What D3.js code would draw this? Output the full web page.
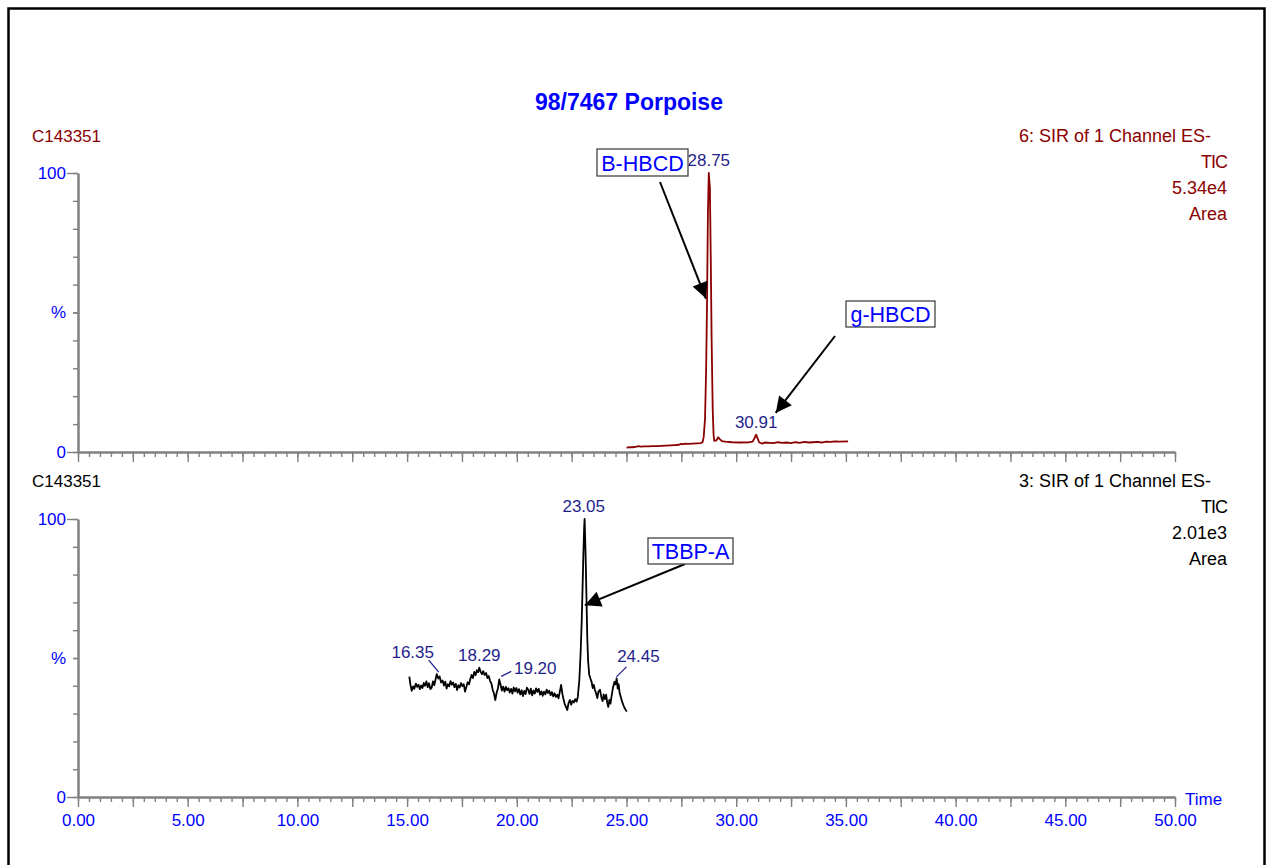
<!DOCTYPE html>
<html>
<head>
<meta charset="utf-8">
<script src="https://cdn.jsdelivr.net/npm/d3@7"></script>
<style>
  html, body { margin: 0; padding: 0; background: #fff; }
  svg { display: block; font-family: "Liberation Sans", Arial, sans-serif; }
  .axis path, .axis line { stroke: #808080; }
  .axis path { stroke-width: 2.5; }
  .axis line { stroke-width: 1.4; }
  .axis text { fill: #0000ff; font-size: 17px; }
</style>
</head>
<body>
<svg id="chart" width="1266" height="865"></svg>
<script>
// ============ Data ============
const TITLE = "98/7467 Porpoise";
const SAMPLE_ID = "C143351";
const topInfo = ["6: SIR of 1 Channel ES-", "TIC", "5.34e4", "Area"];
const bottomInfo = ["3: SIR of 1 Channel ES-", "TIC", "2.01e3", "Area"];
const xLabelTicks = [0, 5, 10, 15, 20, 25, 30, 35, 40, 45, 50];
const yLabelTicks = [0, 50, 100];
const yLabelText = ["0", "%", "100"];

// HBCD channel (time min, % of max)
const hbcdTrace = [
  [25.00,1.6],[25.15,1.7],[25.30,1.7],[25.45,1.9],[25.55,2.1],[25.65,1.9],[25.80,2.0],
  [26.00,2.0],[26.20,2.1],[26.40,2.1],[26.60,2.2],[26.80,2.3],[27.00,2.4],[27.20,2.5],
  [27.40,2.6],[27.48,2.9],[27.58,2.8],[27.68,3.0],[27.80,2.9],[28.00,3.0],[28.20,3.1],
  [28.40,3.2],[28.47,3.6],[28.52,5.5],[28.58,12],[28.63,30],[28.67,53],[28.71,85],
  [28.75,100],[28.80,95],[28.84,70],[28.88,40],[28.93,15],[28.97,6],[29.00,4.0],
  [29.10,4.2],[29.18,5.3],[29.25,4.6],[29.35,3.9],[29.50,3.7],[29.80,3.5],[30.20,3.4],
  [30.60,3.5],[30.75,3.7],[30.85,5.2],[30.91,6.2],[30.97,5.0],[31.05,3.4],[31.20,3.0],
  [31.30,3.4],[31.50,3.3],[31.70,3.2],[31.90,3.5],[32.10,3.3],[32.30,3.4],[32.50,3.2],
  [32.70,3.5],[32.90,3.3],[33.10,3.6],[33.30,3.4],[33.50,3.5],[33.70,3.6],[33.90,3.4],
  [34.10,3.7],[34.30,3.6],[34.50,3.8],[34.70,3.7],[35.10,3.8]
];

// TBBP-A channel (time min, % of max)
const tbbpaTrace = [
  [15.10,43.3],[15.15,40.5],[15.21,38.2],[15.28,39.8],[15.33,38.9],[15.40,40.8],[15.46,39.6],
  [15.52,40.4],[15.58,38.8],[15.64,40.1],[15.70,39.2],[15.76,41.0],[15.82,40.0],[15.88,41.6],
  [15.94,39.5],[16.00,40.9],[16.06,38.8],[16.12,39.3],[16.18,41.6],[16.24,40.2],[16.30,42.4],
  [16.35,44.2],[16.42,42.6],[16.48,43.4],[16.55,41.2],[16.62,41.9],[16.68,40.1],[16.74,41.5],
  [16.80,39.0],[16.86,40.6],[16.92,39.8],[16.98,41.7],[17.04,40.4],[17.10,41.2],[17.16,39.5],
  [17.22,40.7],[17.28,38.5],[17.34,40.2],[17.40,39.4],[17.46,41.0],[17.52,39.9],[17.58,40.6],
  [17.64,37.9],[17.70,39.6],[17.76,41.3],[17.82,40.5],[17.88,42.4],[17.94,43.9],[18.00,42.8],
  [18.06,45.0],[18.12,43.8],[18.18,45.6],[18.24,44.9],[18.29,46.5],[18.35,45.1],[18.41,44.2],
  [18.47,45.3],[18.53,43.9],[18.60,44.6],[18.66,42.8],[18.72,43.5],[18.78,41.8],[18.84,40.9],
  [18.90,38.6],[18.96,37.2],[19.02,34.9],[19.08,37.5],[19.14,39.0],[19.20,42.3],[19.26,40.4],
  [19.32,38.3],[19.38,39.7],[19.44,37.9],[19.50,39.6],[19.56,38.4],[19.62,39.1],[19.68,37.6],
  [19.74,38.9],[19.80,37.2],[19.86,39.4],[19.92,38.0],[19.98,39.2],[20.04,37.5],[20.10,38.8],
  [20.16,36.9],[20.22,38.4],[20.28,36.3],[20.34,38.2],[20.40,37.0],[20.46,39.3],[20.52,38.6],
  [20.58,37.1],[20.64,39.0],[20.70,36.6],[20.76,38.3],[20.82,37.2],[20.88,39.1],[20.94,37.8],
  [21.00,38.9],[21.06,36.8],[21.12,38.0],[21.18,36.4],[21.24,37.9],[21.30,36.9],[21.36,38.6],
  [21.42,37.4],[21.48,38.2],[21.54,36.6],[21.60,37.7],[21.66,36.2],[21.72,37.3],[21.78,36.0],
  [21.84,36.8],[21.90,35.5],[21.96,37.8],[22.02,40.3],[22.08,37.0],[22.12,35.5],[22.18,33.6],
  [22.24,32.4],[22.30,31.3],[22.36,33.8],[22.42,34.9],[22.48,33.2],[22.54,34.6],[22.60,34.0],
  [22.66,35.2],[22.72,34.3],[22.78,36.0],[22.85,42.1],[22.91,52],[22.96,63.7],[23.00,76],
  [23.03,86],[23.07,97],[23.09,100],[23.12,92],[23.15,82],[23.18,70],[23.21,58],[23.25,49],
  [23.30,44],[23.36,42.5],[23.41,41.4],[23.46,39.2],[23.51,40.3],[23.56,38.5],[23.61,37.4],
  [23.67,35.6],[23.72,37.9],[23.79,38.6],[23.85,36.0],[23.91,34.5],[23.96,36.9],[24.02,35.2],
  [24.07,36.8],[24.12,34.0],[24.17,32.4],[24.22,34.9],[24.27,33.6],[24.32,36.3],[24.38,39.2],
  [24.45,41.4],[24.50,40.5],[24.55,42.7],[24.60,39.0],[24.64,40.6],[24.69,37.3],[24.74,36.0],
  [24.80,34.3],[24.86,33.0],[24.92,31.9],[25.01,30.7]
];

// labelled peaks: [time, % height]
const hbcdPeaks = [[28.75, 100], [30.91, 6.2]];
const tbbpaPeaks = [[16.35, 44.2], [18.29, 46.5], [19.20, 42.3], [23.05, 100], [24.45, 41.4]];

// compound annotations: [name, time, %] of arrow tip
const hbcdCompounds = [["B-HBCD", 28.62, 55], ["g-HBCD", 31.8, 14]];
const tbbpaCompounds = [["TBBP-A", 23.1, 69]];

// ============ Layout ============
const svg = d3.select("#chart");
const x = d3.scaleLinear().domain([0, 50]).range([78, 1175]);
const yTop = d3.scaleLinear().domain([0, 100]).range([452, 173]);
const yBot = d3.scaleLinear().domain([0, 100]).range([797, 519]);

// label offsets (px) relative to the peak point: text centre/baseline, optional leader
const peakLabelLayout = {
  "16.35": { dx: -24, dy: -16, leader: [[-8, -14], [2, -2]] },
  "19.20": { dx: 36, dy: -5, leader: [[12, -8], [2, -3]] },
  "24.45": { dx: 24, dy: -20, leader: [[12, -15], [2, -5]] }
};
// box positions for compound names: [x, y, w, h], arrow start
const boxLayout = {
  "B-HBCD": { box: [597, 149, 91, 27], from: [660, 182] },
  "g-HBCD": { box: [846, 301, 89, 26], from: [835, 336] },
  "TBBP-A": { box: [648, 538, 85, 26], from: [685, 564] }
};

const DARK_RED = "#8b0000";
const PEAK_BLUE = "#1f1f8c";

// frame
svg.append("rect")
  .attr("x", 8.5).attr("y", 8.5).attr("width", 1256).attr("height", 900)
  .attr("fill", "none").attr("stroke", "#000").attr("stroke-width", 2.5);

svg.append("defs").append("marker")
  .attr("id", "arrow").attr("viewBox", "0 0 10 10")
  .attr("refX", 10).attr("refY", 5)
  .attr("markerWidth", 10).attr("markerHeight", 8)
  .attr("markerUnits", "strokeWidth")
  .attr("orient", "auto")
  .append("path").attr("d", "M0,0 L10,5 L0,10 z").attr("fill", "#000");

svg.append("text")
  .attr("x", 629).attr("y", 110)
  .attr("text-anchor", "middle")
  .attr("font-size", 23).attr("font-weight", "bold")
  .attr("fill", "#0000ff")
  .text(TITLE);

function drawPanel(y, opts){
  const g = svg.append("g");
  const yBase = y(0);

  // x axis: minor / major / labels
  g.append("g").attr("class", "axis")
    .attr("transform", `translate(0,${yBase})`)
    .call(d3.axisBottom(x).tickValues(d3.range(0, 50.01, 0.5)).tickSize(5).tickSizeOuter(0).tickFormat(""));
  const major = g.append("g").attr("class", "axis")
    .attr("transform", `translate(0,${yBase})`)
    .call(d3.axisBottom(x).tickValues(d3.range(0, 50.01, 2.5)).tickSize(10).tickSizeOuter(0).tickFormat(""));
  major.select(".domain").remove();
  if(opts.xLabels){
    const lab = g.append("g").attr("class", "axis")
      .attr("transform", `translate(0,${yBase})`)
      .call(d3.axisBottom(x).tickValues(xLabelTicks).tickSize(0).tickFormat(d3.format(".2f")));
    lab.select(".domain").remove();
    lab.selectAll("text").attr("dy", 0).attr("y", 29);
    g.append("text").attr("x", 1185).attr("y", yBase + 8)
      .attr("fill", "#0000ff").attr("font-size", 17).text("Time");
  }

  // y axis
  g.append("g").attr("class", "axis")
    .attr("transform", `translate(${x(0)},0)`)
    .call(d3.axisLeft(y).tickValues(d3.range(0, 101, 10)).tickSize(5).tickSizeOuter(0).tickFormat(""));
  const yMajor = g.append("g").attr("class", "axis")
    .attr("transform", `translate(${x(0)},0)`)
    .call(d3.axisLeft(y).tickValues(yLabelTicks).tickSize(11).tickPadding(1)
      .tickFormat((d, i) => yLabelText[i]));
  yMajor.select(".domain").remove();
  yMajor.selectAll("line").filter(d => d === 50).attr("x2", -5);

  // header texts
  g.append("text").attr("x", 32).attr("y", y(0) - 310)
    .attr("fill", opts.color).attr("font-size", 17).text(SAMPLE_ID);
  opts.info.forEach((t, i) => {
    g.append("text")
      .attr("x", i === 0 ? 1211 : 1227)
      .attr("y", yBase - 310 + i * 26)
      .attr("text-anchor", "end")
      .attr("fill", opts.color).attr("font-size", 18)
      .attr("letter-spacing", i === 1 ? -1 : 0)
      .text(t);
  });

  // trace
  const line = d3.line().x(d => x(d[0])).y(d => y(d[1]));
  g.append("path").datum(opts.trace)
    .attr("d", line).attr("fill", "none")
    .attr("stroke", opts.traceColor).attr("stroke-width", 1.8)
    .attr("stroke-linejoin", "round");

  // peak labels
  opts.peaks.forEach(([t, v]) => {
    const key = t.toFixed(2);
    const px = x(t), py = y(v);
    const lay = peakLabelLayout[key] || { dx: 0, dy: -7 };
    if(lay.leader){
      g.append("line")
        .attr("x1", px + lay.leader[0][0]).attr("y1", py + lay.leader[0][1])
        .attr("x2", px + lay.leader[1][0]).attr("y2", py + lay.leader[1][1])
        .attr("stroke", PEAK_BLUE).attr("stroke-width", 1.3);
    }
    g.append("text")
      .attr("x", px + lay.dx).attr("y", py + lay.dy)
      .attr("text-anchor", "middle")
      .attr("fill", PEAK_BLUE).attr("font-size", 17)
      .text(key);
  });

  // compound boxes + arrows
  opts.compounds.forEach(([name, t, v]) => {
    const lay = boxLayout[name];
    g.append("line")
      .attr("x1", lay.from[0]).attr("y1", lay.from[1])
      .attr("x2", x(t)).attr("y2", y(v))
      .attr("stroke", "#000").attr("stroke-width", 2)
      .attr("marker-end", "url(#arrow)");
    const [bx, by, bw, bh] = lay.box;
    g.append("rect")
      .attr("x", bx).attr("y", by).attr("width", bw).attr("height", bh)
      .attr("fill", "#fff").attr("stroke", "#444").attr("stroke-width", 1.3);
    g.append("text")
      .attr("x", bx + bw / 2).attr("y", by + bh - 5)
      .attr("text-anchor", "middle")
      .attr("fill", "#0000ff").attr("font-size", 21.5)
      .text(name);
  });
}

drawPanel(yTop, {
  xLabels: false, color: DARK_RED, info: topInfo,
  trace: hbcdTrace, traceColor: DARK_RED,
  peaks: hbcdPeaks, compounds: hbcdCompounds
});
drawPanel(yBot, {
  xLabels: true, color: "#000", info: bottomInfo,
  trace: tbbpaTrace, traceColor: "#000",
  peaks: tbbpaPeaks, compounds: tbbpaCompounds
});
</script>
</body>
</html>
